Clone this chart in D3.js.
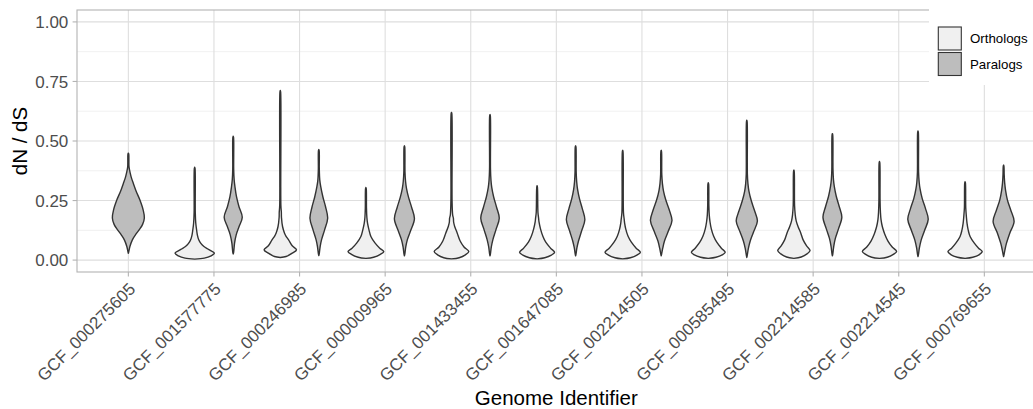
<!DOCTYPE html>
<html lang="en">
<head>
    <meta charset="UTF-8">
    <title>dN / dS</title>
    <script src="https://cdn.jsdelivr.net/npm/d3@7"></script>
    <style>
        body {
            margin: 0;
            background: #ffffff;
        }

        svg {
            display: block;
            font-family: "Liberation Sans", Arial, sans-serif;
        }
    </style>
</head>
<body>
<svg class="svg" width="1033" height="409"></svg>

<script>

    // genomes on the x axis
    var genomes = ['GCF_000275605', 'GCF_001577775', 'GCF_000246985', 'GCF_000009965',
        'GCF_001433455', 'GCF_001647085', 'GCF_002214505', 'GCF_000585495',
        'GCF_002214585', 'GCF_002214545', 'GCF_000769655'];
    var groups = ['Orthologs', 'Paralogs'];
    var yTicks = [0, 0.25, 0.5, 0.75, 1];
    var yMinor = [0.125, 0.375, 0.625, 0.875];

    // violin outlines: [dN/dS, relative density]
    var orthologs = [
        null,
        [[0.004, 0], [0.008, 0.5], [0.018, 0.85], [0.029, 1.02], [0.045, 0.72], [0.057, 0.48], [0.07, 0.32], [0.085, 0.21], [0.105, 0.14], [0.126, 0.1], [0.156, 0.055], [0.2, 0.03], [0.385, 0.018], [0.39, 0]],
        [[0.011, 0], [0.015, 0.3], [0.029, 0.62], [0.043, 0.84], [0.06, 0.62], [0.085, 0.43], [0.1, 0.3], [0.113, 0.22], [0.14, 0.12], [0.18, 0.06], [0.2, 0.055], [0.23, 0.03], [0.705, 0.018], [0.712, 0]],
        [[0.007, 0], [0.012, 0.4], [0.024, 0.75], [0.036, 0.93], [0.05, 0.72], [0.071, 0.48], [0.099, 0.26], [0.127, 0.16], [0.155, 0.085], [0.18, 0.05], [0.22, 0.03], [0.3, 0.018], [0.305, 0]],
        [[0.005, 0], [0.01, 0.4], [0.022, 0.72], [0.036, 0.9], [0.055, 0.65], [0.08, 0.45], [0.113, 0.3], [0.14, 0.17], [0.16, 0.11], [0.175, 0.1], [0.19, 0.06], [0.25, 0.03], [0.615, 0.018], [0.62, 0]],
        [[0.005, 0], [0.01, 0.4], [0.021, 0.74], [0.033, 0.91], [0.05, 0.7], [0.075, 0.45], [0.1, 0.3], [0.13, 0.18], [0.16, 0.1], [0.175, 0.08], [0.2, 0.045], [0.305, 0.018], [0.312, 0]],
        [[0.005, 0], [0.01, 0.4], [0.021, 0.74], [0.033, 0.92], [0.05, 0.7], [0.075, 0.45], [0.1, 0.28], [0.13, 0.16], [0.155, 0.1], [0.17, 0.08], [0.2, 0.04], [0.455, 0.018], [0.461, 0]],
        [[0.007, 0], [0.012, 0.4], [0.022, 0.72], [0.033, 0.88], [0.05, 0.68], [0.075, 0.44], [0.1, 0.28], [0.13, 0.16], [0.16, 0.09], [0.19, 0.05], [0.23, 0.03], [0.32, 0.018], [0.325, 0]],
        [[0.007, 0], [0.013, 0.38], [0.026, 0.68], [0.04, 0.84], [0.06, 0.66], [0.085, 0.48], [0.113, 0.36], [0.14, 0.22], [0.165, 0.12], [0.19, 0.07], [0.23, 0.035], [0.372, 0.018], [0.378, 0]],
        [[0.007, 0], [0.012, 0.4], [0.024, 0.72], [0.036, 0.89], [0.055, 0.66], [0.08, 0.44], [0.11, 0.27], [0.14, 0.15], [0.17, 0.08], [0.2, 0.05], [0.25, 0.03], [0.408, 0.018], [0.414, 0]],
        [[0.007, 0], [0.012, 0.4], [0.022, 0.72], [0.036, 0.89], [0.05, 0.7], [0.071, 0.48], [0.099, 0.26], [0.127, 0.16], [0.155, 0.1], [0.18, 0.07], [0.22, 0.035], [0.324, 0.018], [0.329, 0]]
    ];

    var paralogs = [
        [[0.029, 0], [0.035, 0.01], [0.057, 0.04], [0.085, 0.104], [0.105, 0.18], [0.127, 0.28], [0.15, 0.37], [0.177, 0.415], [0.21, 0.385], [0.252, 0.3], [0.29, 0.2], [0.322, 0.13], [0.345, 0.08], [0.364, 0.05], [0.39, 0.018], [0.445, 0.01], [0.449, 0]],
        [[0.026, 0], [0.03, 0.018], [0.071, 0.07], [0.106, 0.155], [0.14, 0.3], [0.18, 0.47], [0.224, 0.3], [0.266, 0.17], [0.308, 0.09], [0.336, 0.05], [0.38, 0.025], [0.515, 0.018], [0.52, 0]],
        [[0.019, 0], [0.025, 0.018], [0.057, 0.07], [0.085, 0.14], [0.127, 0.3], [0.176, 0.46], [0.224, 0.35], [0.266, 0.21], [0.308, 0.1], [0.336, 0.05], [0.38, 0.025], [0.46, 0.018], [0.464, 0]],
        [[0.018, 0], [0.024, 0.018], [0.055, 0.07], [0.085, 0.15], [0.125, 0.33], [0.173, 0.52], [0.22, 0.38], [0.262, 0.22], [0.3, 0.11], [0.33, 0.06], [0.37, 0.03], [0.475, 0.018], [0.48, 0]],
        [[0.018, 0], [0.024, 0.018], [0.056, 0.07], [0.086, 0.15], [0.128, 0.31], [0.176, 0.48], [0.222, 0.34], [0.265, 0.19], [0.305, 0.09], [0.335, 0.05], [0.38, 0.025], [0.605, 0.018], [0.611, 0]],
        [[0.018, 0], [0.024, 0.018], [0.052, 0.07], [0.08, 0.15], [0.122, 0.31], [0.169, 0.48], [0.215, 0.35], [0.258, 0.2], [0.298, 0.1], [0.33, 0.055], [0.37, 0.03], [0.475, 0.018], [0.48, 0]],
        [[0.018, 0], [0.024, 0.018], [0.05, 0.08], [0.08, 0.17], [0.12, 0.36], [0.166, 0.56], [0.21, 0.42], [0.252, 0.24], [0.29, 0.12], [0.32, 0.065], [0.36, 0.03], [0.455, 0.018], [0.461, 0]],
        [[0.011, 0], [0.018, 0.018], [0.048, 0.08], [0.078, 0.17], [0.118, 0.35], [0.164, 0.55], [0.208, 0.4], [0.25, 0.23], [0.29, 0.11], [0.32, 0.06], [0.36, 0.03], [0.58, 0.018], [0.587, 0]],
        [[0.018, 0], [0.024, 0.018], [0.058, 0.07], [0.09, 0.15], [0.132, 0.32], [0.18, 0.49], [0.226, 0.35], [0.268, 0.2], [0.308, 0.1], [0.338, 0.055], [0.38, 0.03], [0.525, 0.018], [0.531, 0]],
        [[0.015, 0], [0.021, 0.018], [0.052, 0.075], [0.083, 0.16], [0.124, 0.34], [0.171, 0.53], [0.216, 0.39], [0.258, 0.22], [0.298, 0.11], [0.328, 0.06], [0.37, 0.03], [0.536, 0.018], [0.542, 0]],
        [[0.015, 0], [0.021, 0.018], [0.043, 0.07], [0.071, 0.15], [0.113, 0.32], [0.162, 0.545], [0.21, 0.37], [0.252, 0.2], [0.294, 0.1], [0.325, 0.055], [0.36, 0.03], [0.394, 0.018], [0.399, 0]]
    ];

    var fills = {Orthologs: '#f0f0f0', Paralogs: '#bdbdbd'};

    var svg = d3.select('svg');
    var pLeft = 77, pTop = 10, pRight = 1035.7, pBottom = 272;

    var x = d3.scalePoint()
        .domain(genomes)
        .range([pLeft, pRight])
        .padding(0.6);
    var y = d3.scaleLinear()
        .domain([-0.05, 1.05])
        .range([pBottom, pTop]);
    var step = x.step();

    // grid
    var grid = svg.append('g');
    grid.selectAll('.minor')
        .data(yMinor)
        .enter().append('line')
        .attr('x1', pLeft).attr('x2', pRight)
        .attr('y1', function (d) { return y(d); })
        .attr('y2', function (d) { return y(d); })
        .style('stroke', '#e6e6e6')
        .style('stroke-width', '0.6px');
    grid.selectAll('.major')
        .data(yTicks)
        .enter().append('line')
        .attr('x1', pLeft).attr('x2', pRight)
        .attr('y1', function (d) { return y(d); })
        .attr('y2', function (d) { return y(d); })
        .style('stroke', '#dedede')
        .style('stroke-width', '1.1px');
    grid.selectAll('.vert')
        .data(genomes)
        .enter().append('line')
        .attr('x1', function (d) { return x(d); })
        .attr('x2', function (d) { return x(d); })
        .attr('y1', pTop).attr('y2', pBottom)
        .style('stroke', '#dedede')
        .style('stroke-width', '1.1px');

    // violins, dodged like ggplot
    var layer = svg.append('g');
    genomes.forEach(function (g, i) {
        var present = [];
        if (orthologs[i]) present.push({group: 'Orthologs', profile: orthologs[i]});
        if (paralogs[i]) present.push({group: 'Paralogs', profile: paralogs[i]});
        var slot = 0.9 * step / present.length;
        var w = d3.scaleLinear().domain([0, 1]).range([0, slot / 2]);

        present.forEach(function (p, k) {
            var cx = x(g) - 0.45 * step + slot * (k + 0.5);
            var area = d3.area()
                .curve(d3.curveCatmullRom.alpha(0.5))
                .y(function (d) { return y(d[0]); })
                .x0(function (d) { return cx - w(d[1]); })
                .x1(function (d) { return cx + w(d[1]); });
            layer.append('path')
                .datum(p.profile)
                .attr('d', area)
                .style('fill', fills[p.group])
                .style('stroke', '#333333')
                .style('stroke-width', '1.4px')
                .style('stroke-linejoin', 'round');
        });
    });

    // panel border
    svg.append('rect')
        .attr('x', pLeft).attr('y', pTop)
        .attr('width', pRight - pLeft).attr('height', pBottom - pTop)
        .style('fill', 'none')
        .style('stroke', '#b3b3b3')
        .style('stroke-width', '1.1px');

    // y axis
    var yAxis = svg.append('g');
    yAxis.selectAll('line')
        .data(yTicks)
        .enter().append('line')
        .attr('x1', pLeft - 4.4).attr('x2', pLeft)
        .attr('y1', function (d) { return y(d); })
        .attr('y2', function (d) { return y(d); })
        .style('stroke', '#b3b3b3')
        .style('stroke-width', '1.1px');
    yAxis.selectAll('text')
        .data(yTicks)
        .enter().append('text')
        .attr('x', pLeft - 8.7)
        .attr('y', function (d) { return y(d); })
        .attr('dy', '0.36em')
        .attr('text-anchor', 'end')
        .style('font-size', '17px')
        .style('fill', '#4d4d4d')
        .text(function (d) { return d3.format('.2f')(d); });

    // x axis
    var xAxis = svg.append('g');
    xAxis.selectAll('line')
        .data(genomes)
        .enter().append('line')
        .attr('x1', function (d) { return x(d); })
        .attr('x2', function (d) { return x(d); })
        .attr('y1', pBottom).attr('y2', pBottom + 4.4)
        .style('stroke', '#b3b3b3')
        .style('stroke-width', '1.1px');
    xAxis.selectAll('text')
        .data(genomes)
        .enter().append('text')
        .attr('transform', function (d) {
            return 'translate(' + (x(d) + 8) + ',' + (pBottom + 18) + ') rotate(-45)';
        })
        .attr('text-anchor', 'end')
        .style('font-size', '17px')
        .style('fill', '#4d4d4d')
        .text(function (d) { return d; });

    // titles
    svg.append('text')
        .attr('x', (pLeft + pRight) / 2)
        .attr('y', 405)
        .attr('text-anchor', 'middle')
        .style('font-size', '20.5px')
        .style('fill', '#000000')
        .text('Genome Identifier');
    svg.append('text')
        .attr('transform', 'translate(27,' + (pTop + pBottom) / 2 + ') rotate(-90)')
        .attr('text-anchor', 'middle')
        .style('font-size', '20.5px')
        .style('fill', '#000000')
        .text('dN / dS');

    // legend inside the panel, top right
    var legend = svg.append('g');
    legend.append('rect')
        .attr('x', 929).attr('y', 8.5)
        .attr('width', 110).attr('height', 76.5)
        .style('fill', '#ffffff');
    groups.forEach(function (grp, i) {
        var ky = 27 + i * 25.5;
        legend.append('rect')
            .attr('x', 938.3).attr('y', ky)
            .attr('width', 23).attr('height', 23)
            .style('fill', fills[grp])
            .style('stroke', '#333333')
            .style('stroke-width', '1.1px');
        legend.append('text')
            .attr('x', 970)
            .attr('y', ky + 11.5)
            .attr('dy', '0.36em')
            .style('font-size', '13.3px')
            .style('fill', '#000000')
            .text(grp);
    });

</script>

</body>
</html>
